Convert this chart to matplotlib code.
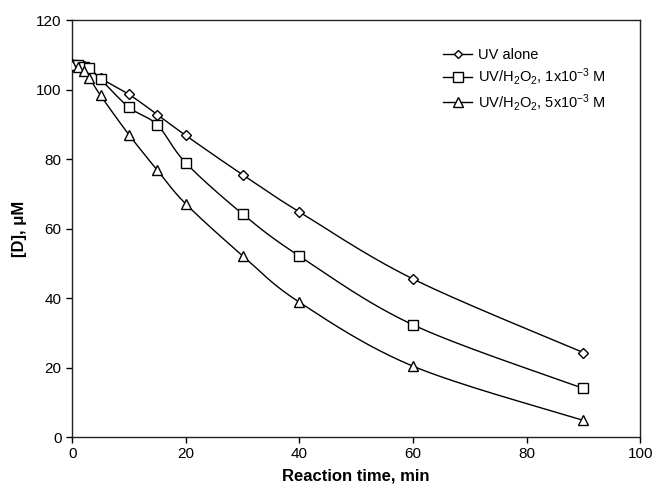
import numpy as np
import matplotlib
matplotlib.use("Agg")
import matplotlib.pyplot as plt
from matplotlib.lines import Line2D

plt.rcParams['font.family'] = ['Liberation Sans', 'DejaVu Sans']
plt.rcParams['mathtext.fontset'] = 'custom'
plt.rcParams['mathtext.rm'] = 'Liberation Sans'
plt.rcParams['mathtext.it'] = 'Liberation Sans'

# ---- data ----
time_min = [0, 1, 2, 3, 5, 10, 15, 20, 30, 40, 60, 90]
uv_alone = [107.5, 107.2, 106.9, 106.2, 103.3, 98.6, 92.8, 86.8, 75.5, 64.8, 45.5, 24.3]
uv_h2o2_1 = [107.2, 107.0, 106.6, 106.3, 103.0, 94.9, 89.8, 78.9, 64.2, 52.1, 32.3, 14.0]
uv_h2o2_5 = [107.0, 106.4, 105.3, 103.4, 98.3, 87.0, 76.8, 67.1, 52.2, 38.8, 20.4, 4.8]

labels = ["UV alone",
          r"UV/H$_2$O$_2$, 1x10$^{-3}$ M",
          r"UV/H$_2$O$_2$, 5x10$^{-3}$ M"]
markers = ["D", "s", "^"]
msizes = [5.5, 7.5, 7.5]
x_ticks = [0, 20, 40, 60, 80, 100]
y_ticks = [0, 20, 40, 60, 80, 100, 120]


def smooth(x, y, n=30):
    """Excel-like smoothed line: cubic Bezier with Catmull-Rom control points."""
    x = np.asarray(x, float)
    y = np.asarray(y, float)
    px, py = [], []
    m = len(x)
    for i in range(m - 1):
        x0, y0 = (x[i - 1], y[i - 1]) if i > 0 else (x[i], y[i])
        x1, y1 = x[i], y[i]
        x2, y2 = x[i + 1], y[i + 1]
        x3, y3 = (x[i + 2], y[i + 2]) if i + 2 < m else (x2, y2)
        c1x, c1y = x1 + (x2 - x0) / 6.0, y1 + (y2 - y0) / 6.0
        c2x, c2y = x2 - (x3 - x1) / 6.0, y2 - (y3 - y1) / 6.0
        t = np.linspace(0, 1, n)
        bx = (1 - t) ** 3 * x1 + 3 * (1 - t) ** 2 * t * c1x + 3 * (1 - t) * t ** 2 * c2x + t ** 3 * x2
        by = (1 - t) ** 3 * y1 + 3 * (1 - t) ** 2 * t * c1y + 3 * (1 - t) * t ** 2 * c2y + t ** 3 * y2
        px.extend(bx)
        py.extend(by)
    return np.array(px), np.array(py)


fig = plt.figure(figsize=(6.56, 4.90), dpi=100)
ax = fig.add_axes([0.110, 0.108, 0.866, 0.851])

handles = []
for ys, mk, ms, lab in zip([uv_alone, uv_h2o2_1, uv_h2o2_5], markers, msizes, labels):
    sx, sy = smooth(time_min, ys)
    ax.plot(sx, sy, color="black", lw=1.0, zorder=2)
    ax.plot(time_min, ys, linestyle="none", marker=mk, markersize=ms,
            markerfacecolor="white", markeredgecolor="black", markeredgewidth=1.0,
            zorder=3)
    handles.append(Line2D([], [], color="black", lw=1.0, marker=mk, markersize=ms - 1,
                          markerfacecolor="white", markeredgecolor="black",
                          markeredgewidth=1.0, label=lab))

ax.set_xlim(0, 100)
ax.set_ylim(0, 120)
ax.set_xticks(x_ticks)
ax.set_yticks(y_ticks)
ax.tick_params(direction="out", length=4, width=1, labelsize=11, colors="black")
for s in ax.spines.values():
    s.set_linewidth(1.0)
    s.set_color("#222222")

ax.set_xlabel("Reaction time, min", fontsize=12, fontweight="bold", labelpad=5)
ax.set_ylabel("[D], μM", fontsize=12, fontweight="bold", labelpad=7)

ax.legend(handles=handles, loc="upper left", bbox_to_anchor=(0.63, 0.965),
          frameon=False, fontsize=10.5, handlelength=2.0, handletextpad=0.4,
          labelspacing=0.3)

fig.savefig("out.png", dpi=100)
